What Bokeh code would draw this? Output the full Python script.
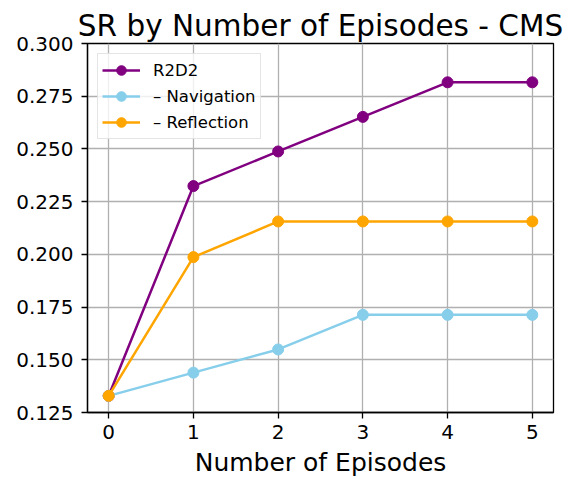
from bokeh.plotting import figure
from bokeh.models import FixedTicker, NumeralTickFormatter, Legend, LegendItem, Range1d
from bokeh.embed import file_html
from bokeh.resources import INLINE

episodes = [0, 1, 2, 3, 4, 5]
r2d2 = [0.1329, 0.2324, 0.2488, 0.2652, 0.2816, 0.2816]
navigation = [0.1329, 0.1439, 0.1549, 0.1713, 0.1713, 0.1713]
reflection = [0.1329, 0.1987, 0.2156, 0.2156, 0.2156, 0.2156]
series_names = ["R2D2", "\u2013 Navigation", "\u2013 Reflection"]
series_colors = ["#800080", "#87CEEB", "#FFA500"]
y_ticks = [0.125, 0.150, 0.175, 0.200, 0.225, 0.250, 0.275, 0.300]
x_ticks = [0, 1, 2, 3, 4, 5]

FONT = "DejaVu Sans"

p = figure(width=571, height=479, output_backend="svg", toolbar_location=None,
           x_range=Range1d(-0.25, 5.25), y_range=Range1d(0.125, 0.300),
           title="SR by Number of Episodes - CMS")
p.min_border_left = 87
p.min_border_right = 18
p.min_border_top = 43
p.min_border_bottom = 65

p.title.text_font = FONT
p.title.text_font_size = "29.5px"
p.title.text_font_style = "normal"
p.title.align = "center"
p.title.standoff = 2
p.title.offset = 0
p.title.text_color = "black"

p.outline_line_color = "black"
p.outline_line_width = 1.3
p.background_fill_color = "white"
p.border_fill_color = "white"

for ax in (p.xaxis[0], p.yaxis[0]):
    ax.major_label_text_font = FONT
    ax.major_label_text_font_size = "20px"
    ax.major_label_text_color = "black"
    ax.major_tick_out = 6
    ax.major_tick_in = 0
    ax.minor_tick_out = 0
    ax.minor_tick_in = 0
    ax.major_tick_line_color = "black"
    ax.major_tick_line_width = 1.3
    ax.axis_line_color = "black"
    ax.axis_line_width = 1.3

p.xaxis[0].major_label_standoff = 6
p.yaxis[0].major_label_standoff = 8

p.xaxis.ticker = FixedTicker(ticks=x_ticks)
p.yaxis.ticker = FixedTicker(ticks=y_ticks)
p.yaxis.formatter = NumeralTickFormatter(format="0.000")
p.xaxis.axis_label = "Number of Episodes"
p.xaxis.axis_label_text_font = FONT
p.xaxis.axis_label_text_font_size = "25px"
p.xaxis.axis_label_text_font_style = "normal"
p.xaxis.axis_label_text_color = "black"
p.xaxis.axis_label_standoff = 6

p.xgrid.ticker = FixedTicker(ticks=x_ticks)
p.ygrid.ticker = FixedTicker(ticks=y_ticks)
for g in (p.xgrid[0], p.ygrid[0]):
    g.grid_line_color = "#b0b0b0"
    g.grid_line_width = 1.3

items = []
for name, vals, col in zip(series_names, [r2d2, navigation, reflection], series_colors):
    ln = p.line(episodes, vals, line_color=col, line_width=2.5)
    sc = p.scatter(episodes, vals, size=11, fill_color=col, line_color=col, marker="circle")
    items.append(LegendItem(label=name, renderers=[ln, sc]))

legend = Legend(items=items, location="top_left")
legend.label_text_font = FONT
legend.label_text_font_size = "16.5px"
legend.label_text_color = "black"
legend.glyph_width = 38
legend.glyph_height = 24
legend.label_height = 24
legend.label_standoff = 13
legend.spacing = 2
legend.padding = 4
legend.margin = 10
legend.border_line_color = "#cccccc"
legend.border_line_width = 1
legend.background_fill_color = "white"
legend.background_fill_alpha = 0.8
p.add_layout(legend, "center")

open("out.html", "w").write(file_html(p, INLINE))
